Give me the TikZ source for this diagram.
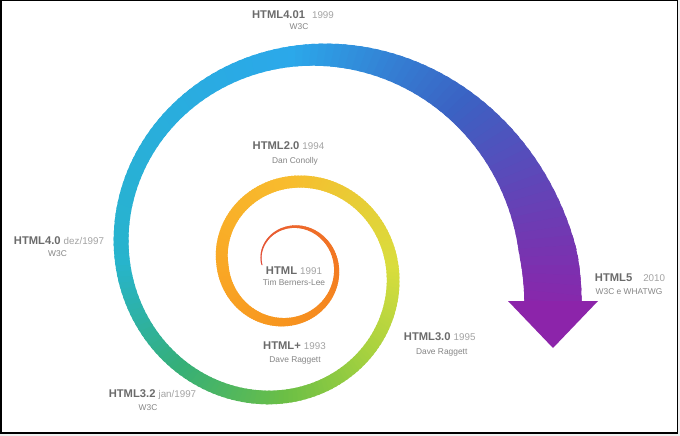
\documentclass[tikz,border=0pt]{standalone}
\usepackage{fontspec}
\setmainfont{Liberation Sans}
\usepackage{xcolor}
\usetikzlibrary{positioning}

% spiral colour stops
\definecolor{sp0}{HTML}{E04A3A}
\definecolor{sp1}{HTML}{EC642D}
\definecolor{sp2}{HTML}{F37B22}
\definecolor{sp3}{HTML}{F7941E}
\definecolor{sp4}{HTML}{F9A825}
\definecolor{sp5}{HTML}{F8BC2E}
\definecolor{sp6}{HTML}{D9DD3D}
\definecolor{sp7}{HTML}{A8D23F}
\definecolor{sp8}{HTML}{6CBF45}
\definecolor{sp9}{HTML}{35AF78}
\definecolor{sp10}{HTML}{27B4CC}
\definecolor{sp11}{HTML}{2BA8EA}
\definecolor{sp12}{HTML}{3B62C3}
\definecolor{sp13}{HTML}{8C24AA}
\definecolor{verc}{HTML}{6B6B6B}
\definecolor{yearc}{HTML}{A3A3A3}
\definecolor{whoc}{HTML}{858585}
\definecolor{edgec}{HTML}{EFEFEF}

\newcommand{\verYear}[1]{{\mdseries\fontsize{9.8}{12}\selectfont\color{yearc}#1}}

\begin{document}
\begin{tikzpicture}[x=1pt, y=-1pt,
    ver/.style={font=\fontsize{11.2}{13}\selectfont\bfseries, text=verc, anchor=base, inner sep=0pt},
    who/.style={font=\fontsize{8.4}{10}\selectfont, text=whoc, anchor=base, inner sep=0pt},
    declare function={
      spr(\t)=26*pow(1.26,(\t-180)/90)+(\t<540 ? 7*sin((\t-180)/2) : 0);
      spw(\t)=\t<540 ? 1+11*pow(max((\t-180)/360,0.001),1.5) : (\t<900 ? 12+3*pow((\t-540)/360,2) : min(58,15+45*pow((\t-900)/180,3)));
    }
  ]
  \useasboundingbox (0,0) rectangle (680,436);
  \fill[edgec] (0,0) rectangle (680,436);
  \fill[white] (0,0) rectangle (677.5,433);
  \draw[line width=1.5pt] (0.75,0.75) rectangle (677.5,433);

  % spiral, filled as short overlapping pieces
  \foreach \ta/\n/\ca/\cb in {180/45/sp0/sp1, 270/45/sp1/sp2, 360/45/sp2/sp3, 450/45/sp3/sp4,
      540/45/sp4/sp5, 630/45/sp5/sp6, 720/23/sp6/sp7, 766/22/sp7/sp8, 810/23/sp8/sp9,
      856/22/sp9/sp10, 900/45/sp10/sp11, 990/23/sp11/sp12, 1036/27/sp12/sp13} {
    \foreach \i in {1,...,\n} {
      \pgfmathsetmacro\ts{\ta+2*(\i-1)}
      \pgfmathsetmacro\te{min(\ts+3,1090)}
      \pgfmathsetmacro\p{100-100*(\i-1)/\n}
      \pgfmathsetmacro\ra{spr(\ts)}
      \pgfmathsetmacro\rb{spr(\te)}
      \pgfmathsetmacro\wa{spw(\ts)/2}
      \pgfmathsetmacro\wb{spw(\te)/2}
      \fill[color=\ca!\p!\cb]
        ({288+(\ra-\wa)*cos(\ts)},{265+(\ra-\wa)*sin(\ts)}) --
        ({288+(\ra+\wa)*cos(\ts)},{265+(\ra+\wa)*sin(\ts)}) --
        ({288+(\rb+\wb)*cos(\te)},{265+(\rb+\wb)*sin(\te)}) --
        ({288+(\rb-\wb)*cos(\te)},{265+(\rb-\wb)*sin(\te)}) -- cycle;
    }
  }
  \fill[sp13] (508,301) -- (598,301) -- (553,348) -- cycle;

  % labels
  \node[ver] (v1991) at (294,274) {HTML \verYear{1991}};
  \node[who] (w1991) at (294,285) {Tim Berners-Lee};
  \node[ver] (v1993) at (294.5,349) {HTML+ \verYear{1993}};
  \node[who] (w1993) at (295,362) {Dave Raggett};
  \node[ver] (v1994) at (288.5,149) {HTML2.0 \verYear{1994}};
  \node[who] (w1994) at (295,163) {Dan Conolly};
  \node[ver] (v1995) at (439.7,340.7) {HTML3.0 \verYear{1995}};
  \node[who] (w1995) at (441.7,354) {Dave Raggett};
  \node[ver] (v1997a) at (152.5,397.7) {HTML3.2 \verYear{jan/1997}};
  \node[who] (w1997a) at (148,410) {W3C};
  \node[ver] (v1997b) at (59,244) {HTML4.0 \verYear{dez/1997}};
  \node[who] (w1997b) at (57.5,256.7) {W3C};
  \node[ver] (v1999) at (293,19) {HTML4.01\hspace{7pt}\verYear{1999}};
  \node[who] (w1999) at (299,30) {W3C};
  \node[ver] (v2010) at (630,281.7) {HTML5\hspace{11pt}\verYear{2010}};
  \node[who] (w2010) at (629,294) {W3C e WHATWG};
\end{tikzpicture}
\end{document}
